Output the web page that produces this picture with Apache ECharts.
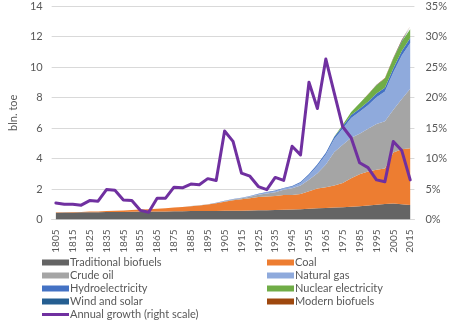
<!DOCTYPE html>
<html>
<head>
<meta charset="utf-8">
<script src="https://cdn.jsdelivr.net/npm/echarts@6/dist/echarts.min.js"></script>
<style>html,body{margin:0;padding:0;background:#fff;}#c{width:450px;height:321px;}</style>
</head>
<body>
<div id="c"></div>
<script>
var years = ['1805','1810','1815','1820','1825','1830','1835','1840','1845','1850','1855','1860','1865','1870','1875','1880','1885','1890','1895','1900','1905','1910','1915','1920','1925','1930','1935','1940','1945','1950','1955','1960','1965','1970','1975','1980','1985','1990','1995','2000','2005','2010','2015'];
var tradBiofuels = [0.45,0.46,0.46,0.47,0.48,0.48,0.49,0.50,0.50,0.51,0.52,0.52,0.53,0.53,0.54,0.54,0.55,0.55,0.56,0.56,0.57,0.57,0.58,0.59,0.60,0.61,0.62,0.64,0.66,0.68,0.70,0.73,0.76,0.78,0.80,0.83,0.87,0.92,0.97,1.02,1.05,1.00,0.95];
var coal = [0.02,0.02,0.03,0.03,0.04,0.05,0.06,0.07,0.09,0.11,0.13,0.15,0.18,0.21,0.24,0.28,0.32,0.37,0.42,0.50,0.60,0.70,0.75,0.80,0.88,0.90,0.92,0.96,0.94,1.00,1.15,1.30,1.35,1.45,1.60,1.88,2.10,2.23,2.30,2.32,3.35,3.60,3.72];
var crudeOil = [0,0,0,0,0,0,0,0,0,0,0,0,0.001,0.002,0.003,0.005,0.008,0.01,0.015,0.02,0.03,0.04,0.06,0.10,0.14,0.20,0.25,0.35,0.45,0.55,0.75,1.00,1.50,2.20,2.50,2.65,2.65,2.80,3.00,3.10,2.80,3.30,3.90];
var naturalGas = [0,0,0,0,0,0,0,0,0,0,0,0,0,0,0,0,0.005,0.007,0.008,0.01,0.015,0.02,0.025,0.03,0.04,0.06,0.07,0.08,0.10,0.17,0.30,0.50,0.65,0.85,1.05,1.30,1.45,1.55,1.75,1.95,2.45,2.85,3.00];
var hydro = [0,0,0,0,0,0,0,0,0,0,0,0,0,0,0,0,0,0,0,0.005,0.008,0.01,0.015,0.02,0.025,0.03,0.035,0.04,0.05,0.06,0.08,0.10,0.12,0.15,0.17,0.19,0.20,0.22,0.24,0.25,0.27,0.30,0.33];
var nuclear = [0,0,0,0,0,0,0,0,0,0,0,0,0,0,0,0,0,0,0,0,0,0,0,0,0,0,0,0,0,0,0,0,0.005,0.02,0.10,0.20,0.35,0.48,0.55,0.60,0.63,0.62,0.58];
var windSolar = [0,0,0,0,0,0,0,0,0,0,0,0,0,0,0,0,0,0,0,0,0,0,0,0,0,0,0,0,0,0,0,0,0,0,0,0,0,0,0.003,0.007,0.02,0.06,0.13];
var modernBiofuels = [0,0,0,0,0,0,0,0,0,0,0,0,0,0,0,0,0,0,0,0,0,0,0,0,0,0,0,0,0,0,0,0,0,0,0,0.005,0.01,0.015,0.02,0.025,0.035,0.06,0.08];
var annualGrowth = [2.7,2.5,2.5,2.35,3.1,3.0,4.9,4.8,3.2,3.1,1.5,1.2,3.5,3.5,5.3,5.2,5.8,5.7,6.7,6.4,14.5,12.8,7.6,7.1,5.4,4.9,6.9,6.4,12.0,10.6,22.5,18.2,26.3,20.7,15.2,13.4,9.3,8.5,6.5,6.2,12.8,11.3,6.5];
var leftTicks = {min:0, max:14, interval:2};
var rightTicks = {min:0, max:35, interval:5};

var FONT = 'Lato';
var TXT = '#595959';

function area(name, data, color) {
  return {
    name: name, type: 'line', stack: 'energy', data: data,
    symbol: 'none', smooth: false,
    lineStyle: {width: 0, color: color},
    itemStyle: {color: color},
    areaStyle: {color: color, opacity: 1},
    emphasis: {disabled: true},
    silent: true, z: 2
  };
}

var chart = echarts.init(document.getElementById('c'), null, {renderer: 'canvas'});
var legendCommon = {
  orient: 'vertical', itemWidth: 27, itemHeight: 6, itemGap: 2,
  icon: 'rect', selectedMode: false,
  textStyle: {fontFamily: FONT, fontSize: 11, color: TXT, padding: [0,0,0,-4], lineHeight: 11},
  padding: 0
};
chart.setOption({
  animation: false,
  textStyle: {fontFamily: FONT},
  grid: {left: 37.5, right: 30.5, top: 6, bottom: 101.5, containLabel: false},
  legend: [
    Object.assign({}, legendCommon, {left: 42, top: 257, data: ['Traditional biofuels','Crude oil','Hydroelectricity','Wind and solar']}),
    Object.assign({}, legendCommon, {left: 267, top: 257, data: ['Coal','Natural gas','Nuclear electricity','Modern biofuels']}),
    Object.assign({}, legendCommon, {left: 42, top: 309, itemHeight: 3, data: ['Annual growth (right scale)']})
  ],
  xAxis: {
    type: 'category', data: years, boundaryGap: true,
    axisLine: {show: true, lineStyle: {color: '#d9d9d9', width: 1}},
    axisTick: {show: false},
    axisLabel: {interval: 1, rotate: 90, fontFamily: FONT, fontSize: 10, color: TXT, margin: 10}
  },
  yAxis: [
    {
      type: 'value', min: leftTicks.min, max: leftTicks.max, interval: leftTicks.interval,
      name: 'bln. toe', nameLocation: 'middle', nameGap: 23, nameRotate: 90,
      nameTextStyle: {fontFamily: FONT, fontSize: 11, color: TXT},
      axisLine: {show: false}, axisTick: {show: false},
      splitLine: {lineStyle: {color: '#d9d9d9', width: 1}},
      axisLabel: {fontFamily: FONT, fontSize: 11, color: TXT, margin: 9}
    },
    {
      type: 'value', min: rightTicks.min, max: rightTicks.max, interval: rightTicks.interval,
      position: 'right',
      axisLine: {show: false}, axisTick: {show: false}, splitLine: {show: false},
      axisLabel: {fontFamily: FONT, fontSize: 11, color: TXT, margin: 11, formatter: '{value}%'}
    }
  ],
  series: [
    area('Traditional biofuels', tradBiofuels, '#646464'),
    area('Coal', coal, '#ED7D31'),
    area('Crude oil', crudeOil, '#A5A5A5'),
    area('Natural gas', naturalGas, '#8FAADC'),
    area('Hydroelectricity', hydro, '#4472C4'),
    area('Nuclear electricity', nuclear, '#70AD47'),
    area('Wind and solar', windSolar, '#255E91'),
    area('Modern biofuels', modernBiofuels, '#9E480E'),
    {
      name: 'Annual growth (right scale)', type: 'line', yAxisIndex: 1, data: annualGrowth,
      symbol: 'none', lineStyle: {width: 3, color: '#7030A0', join: 'round', cap: 'round'},
      itemStyle: {color: '#7030A0'}, silent: true, z: 5
    }
  ]
});
</script>
</body>
</html>
